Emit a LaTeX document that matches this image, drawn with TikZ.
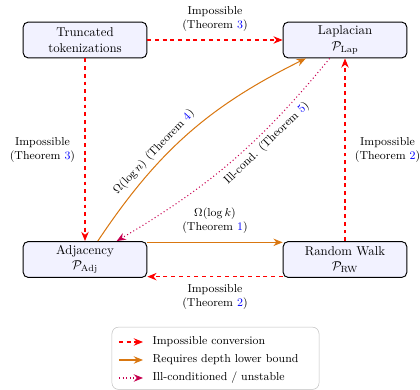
\documentclass[tikz,border=0pt]{standalone}
\usetikzlibrary{arrows.meta,positioning}
\definecolor{myorange}{RGB}{217,119,17}
\definecolor{illc}{RGB}{200,0,80}
\begin{document}
\begin{tikzpicture}[x=0.78pt,y=-0.78pt,
  box/.style={draw=black, line width=0.75pt, rounded corners=4pt, fill=blue!5,
    minimum width=96.5pt, minimum height=28pt, align=center, inner sep=2pt},
  tip/.style={-{Stealth[length=7.2pt,width=5.8pt]}},
  imp/.style={red, dashed, thick, tip},
  dep/.style={myorange, thick, tip},
  ill/.style={illc, dotted, thick, -{Stealth[length=7.2pt,width=5.8pt,fill=purple]}},
  lab/.style={font=\small, align=center, text=black},
]
\useasboundingbox (0,0) rectangle (420,390);
\node[box] (trunc) at (85,40) {Truncated\\tokenizations};
\node[box] (lap) at (345,40) {Laplacian\\$\mathcal{P}_{\mathrm{Lap}}$};
\node[box] (adj) at (85,259.5) {Adjacency\\$\mathcal{P}_{\mathrm{Adj}}$};
\node[box] (rw) at (345,259.5) {Random Walk\\$\mathcal{P}_{\mathrm{RW}}$};

\draw[imp] (trunc) -- node[lab, above=3pt] {Impossible\\(Theorem \textcolor{blue}{3})} (lap);
\draw[imp] (trunc) -- node[lab, left=4pt] {Impossible\\(Theorem \textcolor{blue}{3})} (adj);
\draw[imp] (rw) -- node[lab, right=4pt] {Impossible\\(Theorem \textcolor{blue}{2})} (lap);
\draw[dep] ([yshift=-1pt]adj.north east) -- node[lab, above=3pt] {$\Omega(\log k)$\\(Theorem \textcolor{blue}{1})} ([yshift=-1pt]rw.north west);
\draw[imp] ([yshift=1pt]rw.south west) -- node[lab, below=2.5pt] {Impossible\\(Theorem \textcolor{blue}{2})} ([yshift=1pt]adj.south east);
\draw[dep] (adj) to[bend left=15] node[lab, pos=0.36, sloped, above] {$\Omega(\log n)$ (Theorem \textcolor{blue}{4})} (lap);
\draw[ill] (lap) to[bend left=10] node[lab, pos=0.36, sloped, below] {Ill-cond. (Theorem \textcolor{blue}{5})} (adj);

\node[draw=gray!50, rounded corners=5pt, minimum width=161.5pt, minimum height=48.5pt] (legend) at (215.5,358.3) {};
\coordinate (l1a) at (119,342); \coordinate (l1b) at (143,342);
\coordinate (l2a) at (119,360); \coordinate (l2b) at (143,360);
\coordinate (l3a) at (119,378); \coordinate (l3b) at (143,378);
\draw[imp] (l1a) -- (l1b);
\draw[dep] (l2a) -- (l2b);
\draw[ill] (l3a) -- (l3b);
\node[lab, anchor=west] (t1) at (148,342) {Impossible conversion};
\node[lab, anchor=west] (t2) at (148,360) {Requires depth lower bound};
\node[lab, anchor=west] (t3) at (148,378) {Ill-conditioned / unstable};
\end{tikzpicture}
\end{document}
